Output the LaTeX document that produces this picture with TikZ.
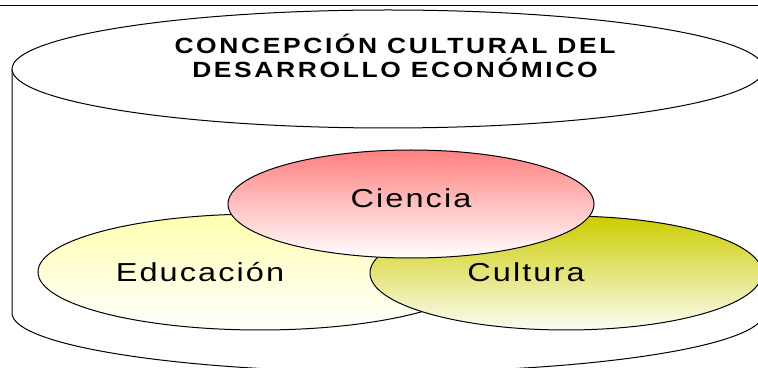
\documentclass[tikz,border=0pt]{standalone}
\usepackage{fontspec}
\setmainfont{Liberation Sans}
\newfontfamily\spacedlabel[FakeStretch=1.25,LetterSpace=8]{Liberation Sans}
\newfontfamily\spacedtitle[FakeStretch=1.2,LetterSpace=12]{Liberation Sans}
\usetikzlibrary{shapes.geometric}
\definecolor{cienciatop}{RGB}{255,128,128}
\definecolor{edutop}{RGB}{255,255,176}
\definecolor{culturatop}{RGB}{204,204,0}
\definecolor{culturabot}{RGB}{252,252,246}
\tikzset{
  outline/.style={draw=black, line width=1pt},
  bubble/.style={ellipse, outline, inner sep=0pt, outer sep=0pt},
  lbl/.style={anchor=base, inner sep=0pt, font=\spacedlabel\fontsize{26}{30}\selectfont},
  ttl/.style={anchor=base, inner sep=0pt, align=center, font=\spacedtitle\bfseries\fontsize{22}{24}\selectfont}
}
\begin{document}
\begin{tikzpicture}[x=1pt,y=1pt]
\useasboundingbox (0,0) rectangle (758,367);
% top rule
\coordinate (ruleL) at (0,361);
\coordinate (ruleR) at (758,361);
\draw[line width=1pt] (ruleL) -- (ruleR);
% cylinder
\draw[outline, fill=white] (12,298) -- (12,54) arc[start angle=180, end angle=360, x radius=376, y radius=59] -- (764,298);
\draw[outline, fill=white] (388,298) ellipse [x radius=376, y radius=59];
\node[ttl] (title) at (395,289) {CONCEPCIÓN CULTURAL DEL\\DESARROLLO ECONÓMICO};
% bubbles
\node[bubble, minimum width=444, minimum height=116, top color=edutop, bottom color=white] (edu) at (260,95) {};
\node[bubble, minimum width=392, minimum height=114, top color=culturatop, bottom color=culturabot] (cul) at (566,94) {};
\node[bubble, minimum width=366, minimum height=108, top color=cienciatop, bottom color=white] (cie) at (411,163) {};
\node[lbl] (edut) at (200,85) {Educación};
\node[lbl] (cult) at (526,85) {Cultura};
\node[lbl] (ciet) at (411,159) {Ciencia};
\end{tikzpicture}
\end{document}
